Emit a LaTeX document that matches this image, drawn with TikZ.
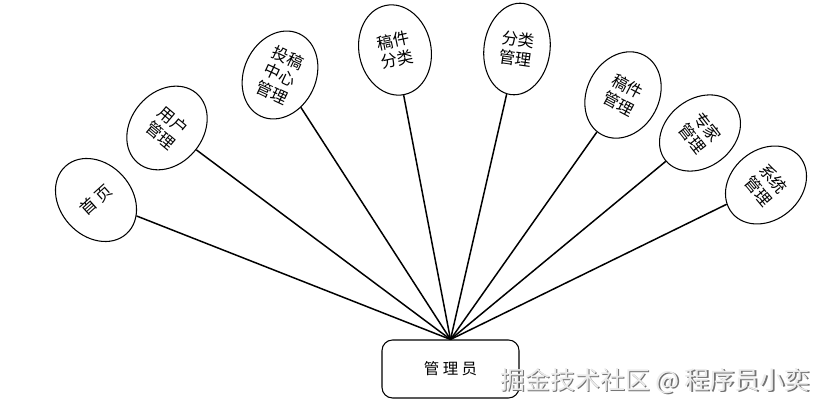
\documentclass[tikz,border=0pt]{standalone}
\usepackage{fontspec}
\setmainfont{Noto Sans CJK SC}
\newfontfamily\cjkwide[LetterSpace=22]{Noto Sans CJK SC}
\usepackage{xcolor}
\usepackage{tikz}
\usetikzlibrary{shapes.geometric}
\tikzset{
    ovbox/.style={ellipse, draw=black, line width=0.6pt, fill=white,
                  inner sep=0pt, minimum width=1.44cm, minimum height=1.82cm,
                  align=center, font=\fontsize{9.3}{11}\selectfont},
    rbox/.style={rectangle, rounded corners=6pt, draw=black, line width=0.6pt,
                 minimum width=2.74cm, minimum height=1.16cm,
                 font=\cjkwide\fontsize{8.8}{10.4}\selectfont},
    lnk/.style={line width=0.85pt, draw=black},
    wmark/.style={font=\fontsize{14.2}{18}\selectfont, inner sep=0pt}
}

\begin{document}
\begin{tikzpicture}
\useasboundingbox (0,0) rectangle (16.48,8.2);

% ── Hub ───────────────────────────────────────────────────────────────
\node[rbox] at (9.01,0.82) (admin) {管理员};

% ── Function ellipses (left → right) ──────────────────────────────────
\node[ovbox, rotate=42, font=\cjkwide\fontsize{9.3}{11}\selectfont]
      at (1.92,4.20) (home)   {首页};
\node[ovbox, rotate=-40] at (3.34,5.64) (user)   {用户\\管理};
\node[ovbox, rotate=-25] at (5.60,6.70) (submit) {投稿\\中心\\管理};
\node[ovbox, rotate=12]  at (7.90,7.20) (draftc) {稿件\\分类};
\node[ovbox, rotate=-8, minimum width=1.32cm, minimum height=1.84cm]
      at (10.34,7.22) (catm)  {分类\\管理};
\node[ovbox, rotate=-28, minimum height=1.80cm]
      at (12.46,6.30) (draftm) {稿件\\管理};
\node[ovbox, rotate=-52, minimum width=1.36cm, minimum height=1.76cm]
      at (14.00,5.54) (expert) {专家\\管理};
\node[ovbox, rotate=-50, minimum width=1.40cm, minimum height=1.76cm]
      at (15.32,4.50) (sys)    {系统\\管理};

% ── Links to hub ──────────────────────────────────────────────────────
\foreach \n in {home, user, submit, draftc, catm, draftm, expert, sys}
    \draw[lnk] (admin.north) -- (\n);

% ── Watermark ─────────────────────────────────────────────────────────
\node[wmark, text=black!55] at (13.13,0.555) (wmshade) {掘金技术社区 @ 程序员小奕};
\node[wmark, text=black!8]  at (13.10,0.58)  (wm)      {掘金技术社区 @ 程序员小奕};
\end{tikzpicture}
\end{document}
